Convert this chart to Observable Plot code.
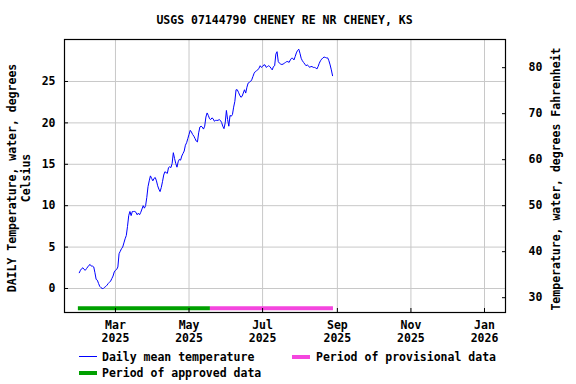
<!DOCTYPE html>
<html><head><meta charset="utf-8">
<script src="https://cdn.jsdelivr.net/npm/d3@7"></script>
<script src="https://cdn.jsdelivr.net/npm/@observablehq/plot@0.6"></script>
<style>
body{margin:0;background:#fff;}
#wrap{position:relative;width:576px;height:384px;overflow:hidden;font-family:"DejaVu Sans Mono",monospace;font-weight:bold;font-size:11.5px;color:#000;}
#wrap svg{position:absolute;left:0;top:0;}
.abs{position:absolute;white-space:nowrap;line-height:14px;}
.sw{position:absolute;}
</style>
</head><body>
<div id="wrap"></div>
<script>
// ---- data ----
const title = "USGS 07144790 CHENEY RE NR CHENEY, KS";
const yLabelLeft = ["DAILY Temperature, water, degrees", "Celsius"];
const yLabelRight = "Temperature, water, degrees Fahrenheit";
const firstDay = "2025-01-30";
// daily mean water temperature, °C, one value per day from firstDay
const dailyMean = [
  1.9,2.2,2.4,2.5,2.3,2.2,2.4,2.6,2.8,2.9,
  2.7,2.7,2.6,1.9,1.1,1.0,0.6,0.25,0.1,0.0,
  0.0,0.15,0.25,0.4,0.6,0.75,0.9,1.2,1.5,2.0,
  2.2,2.3,2.6,4.2,4.5,4.8,5.0,5.5,6.0,6.4,
  7.5,8.8,9.3,8.8,9.3,9.3,9.3,9.2,8.9,9.1,
  8.9,9.2,9.6,10.0,9.7,10.0,11.0,12.3,13.0,13.6,
  13.3,13.0,13.3,13.4,13.0,12.4,12.0,11.7,12.2,12.9,
  13.7,14.1,14.0,13.9,14.6,14.7,14.6,15.1,16.4,15.7,
  15.1,14.65,15.3,15.6,15.5,16.0,16.3,16.6,17.3,17.6,
  18.1,18.6,19.1,18.9,18.6,18.4,18.1,17.8,17.7,18.8,
  19.5,19.6,19.5,19.25,19.6,20.7,21.2,20.9,20.5,20.4,
  20.6,20.5,20.2,20.3,20.3,20.3,20.4,20.3,20.05,19.6,
  19.3,20.0,21.5,20.4,19.6,20.9,20.8,21.0,21.9,22.6,
  24.0,24.0,23.7,23.35,23.1,23.2,23.6,24.0,23.6,24.3,
  24.8,24.9,25.0,25.2,25.6,26.0,26.2,26.3,26.4,26.6,
  26.9,26.7,26.8,27.0,27.0,26.7,26.8,26.9,26.8,26.6,
  26.4,26.8,26.9,28.3,28.6,27.4,27.2,27.1,27.05,27.1,
  27.2,27.3,27.4,27.4,27.3,27.6,27.8,27.8,27.6,28.0,
  28.45,28.75,28.9,28.4,27.8,27.5,27.3,27.1,26.9,27.0,
  26.9,26.7,26.8,26.8,26.7,26.7,26.65,26.5,26.8,27.2,
  27.5,27.7,27.85,27.95,27.9,27.85,27.85,27.5,27.0,26.4,25.7
];
const periodStatus = ["approved", "provisional"];
const periodStart = ["2025-01-29T06:00Z", "2025-05-18T18:00Z"];
const periodEnd   = ["2025-05-18T18:00Z", "2025-08-28T18:00Z"];
const celsiusTicks = [0, 5, 10, 15, 20, 25];
const fahrenheitTicks = [30, 40, 50, 60, 70, 80];
const monthTicks = ["2025-03-01", "2025-05-01", "2025-07-01", "2025-09-01", "2025-11-01", "2026-01-01"];
const monthNames = ["Jan","Feb","Mar","Apr","May","Jun","Jul","Aug","Sep","Oct","Nov","Dec"];
const xDomain = ["2025-01-17T18:00Z", "2026-01-18T10:00Z"];
const yDomain = [-2.9, 30.07];

// ---- build ----
const start = new Date(firstDay + "T00:00Z");
const series = dailyMean.map((v, i) => ({date: d3.utcDay.offset(start, i), value: v}));
const periods = periodStatus.map((s, i) => ({status: s, start: new Date(periodStart[i]), end: new Date(periodEnd[i])}));
const xTicks = monthTicks.map(d => new Date(d + "T00:00Z"));
const barLevel = yDomain[0] + 0.5;
const GREEN = "#00a000", MAGENTA = "#f446de", BLUE = "#0000ff", GRID = "#c8c8c8";

const chart = Plot.plot({
  width: 576, height: 345,
  marginLeft: 64, marginRight: 71, marginTop: 39, marginBottom: 33,
  style: {fontFamily: '"DejaVu Sans Mono", monospace', fontWeight: "bold", fontSize: "11.5px", background: "transparent", color: "black"},
  x: {type: "utc", domain: xDomain.map(d => new Date(d))},
  y: {domain: yDomain},
  marks: [
    Plot.gridY(celsiusTicks, {stroke: GRID, strokeOpacity: 1}),
    Plot.gridX(xTicks, {stroke: GRID, strokeOpacity: 1}),
    Plot.ruleY(periods.filter(p => p.status === "approved"), {y: () => barLevel, x1: "start", x2: "end", stroke: GREEN, strokeWidth: 4}),
    Plot.ruleY(periods.filter(p => p.status === "provisional"), {y: () => barLevel, x1: "start", x2: "end", stroke: MAGENTA, strokeWidth: 4}),
    Plot.line(series, {x: "date", y: "value", stroke: BLUE, strokeWidth: 1}),
    Plot.frame({stroke: "black", strokeWidth: 1.2}),
    Plot.axisY(celsiusTicks, {anchor: "left", tickSize: -4, tickPadding: 13, label: null, tickFormat: d => String(d)}),
    Plot.axisY(fahrenheitTicks.map(f => (f - 32) / 1.8), {anchor: "right", tickSize: -4, tickPadding: 27, label: null, tickFormat: c => String(Math.round(c * 1.8 + 32))}),
    Plot.axisX(xTicks, {anchor: "bottom", tickSize: -4, tickPadding: 12, lineHeight: 1.1, label: null, tickFormat: d => monthNames[d.getUTCMonth()] + "\n" + d.getUTCFullYear()})
  ]
});

const wrap = document.getElementById("wrap");
wrap.appendChild(chart);

function addText(txt, left, top, extra) {
  const el = document.createElement("div");
  el.className = "abs";
  el.textContent = txt;
  el.style.left = left + "px";
  el.style.top = top + "px";
  if (extra) Object.assign(el.style, extra);
  wrap.appendChild(el);
  return el;
}
function addSwatch(color, left, top, w, h) {
  const el = document.createElement("div");
  el.className = "sw";
  Object.assign(el.style, {left: left + "px", top: top + "px", width: w + "px", height: h + "px", background: color});
  wrap.appendChild(el);
}
// title
addText(title, 0, 13, {width: "569px", textAlign: "center"});
// left axis label (two lines, rotated)
const lab = addText("", 19 - 140, 178 - 14, {width: "280px", height: "28px", textAlign: "center", transform: "rotate(-90deg)", transformOrigin: "50% 50%"});
lab.innerHTML = yLabelLeft.map(s => `<div>${s}</div>`).join("");
// right axis label
addText(yLabelRight, 556 - 150, 179 - 7, {width: "300px", textAlign: "center", transform: "rotate(-90deg)", transformOrigin: "50% 50%"});
// legend
addSwatch(BLUE, 79, 356, 18, 1);
addText("Daily mean temperature", 102, 350);
addSwatch(MAGENTA, 292, 355, 18, 4);
addText("Period of provisional data", 316, 350);
addSwatch(GREEN, 79, 371, 18, 4);
addText("Period of approved data", 102, 366);
</script>
</body></html>
